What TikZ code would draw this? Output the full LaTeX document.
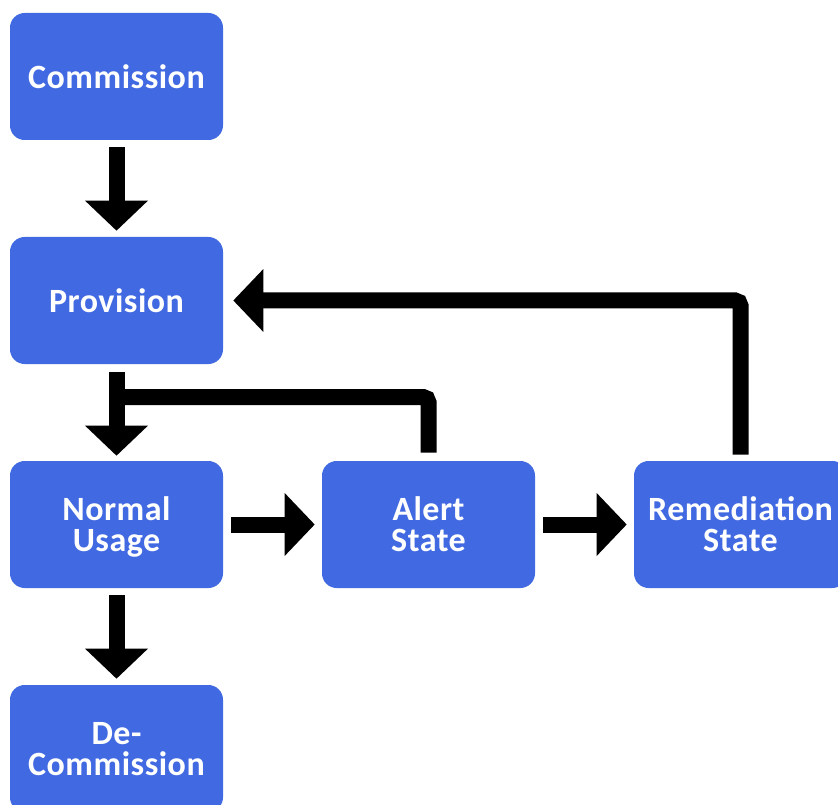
\documentclass[tikz,border=0pt]{standalone}
\usepackage{fontspec}
\setmainfont{Carlito}[LetterSpace=1.5]
\usepackage{xcolor}
\definecolor{caixa}{RGB}{65,105,225}
\usepackage{tikz}
\usetikzlibrary{arrows.meta}

\begin{document}
\begin{tikzpicture}[x=0.75pt,y=-0.75pt,
    estado/.style={rectangle,rounded corners=11pt,fill=caixa,text=white,
      minimum width=159.75pt,minimum height=95.25pt,align=center,inner sep=0pt,
      text depth=0pt,font=\bfseries\fontsize{25.5}{23.25}\selectfont},
    barra/.style={line width=12pt},
    fluxo/.style={barra,-{Triangle[length=22.5pt,width=45.75pt]}}]
    \clip (0,0) rectangle (838,805);
    \node[estado] (commission) at (116.5,76.5) {Commission};
    \node[estado] (provision) at (116.5,300.5) {Provision};
    \node[estado] (normal) at (116.5,524.5) {Normal\\Usage};
    \node[estado] (decommission) at (116.5,748.5) {De-\\Commission};
    \node[estado] (alert) at (428.5,524.5) {Alert\\State};
    \node[estado] (remediation) at (740.5,524.5) {Remediation\\State};
    \coordinate (juncao) at (116.5,397);
    \draw[fluxo,shorten <=5.25pt,shorten >=4.5pt] (commission) -- (provision);
    \draw[fluxo,shorten <=6pt,shorten >=3.75pt] (provision) -- (normal);
    \draw[fluxo,shorten <=5.25pt,shorten >=4.5pt] (normal) -- (decommission);
    \draw[fluxo,shorten <=6pt,shorten >=5.25pt] (normal) -- (alert);
    \draw[fluxo,shorten <=6pt,shorten >=5.25pt] (alert) -- (remediation);
    \draw[barra,rounded corners=4pt,shorten <=6pt] (alert.north) |- (juncao);
    \draw[fluxo,rounded corners=4pt,shorten <=4.5pt,shorten >=7.5pt] (remediation.north) |- (provision.east);
  \end{tikzpicture}
\end{document}
